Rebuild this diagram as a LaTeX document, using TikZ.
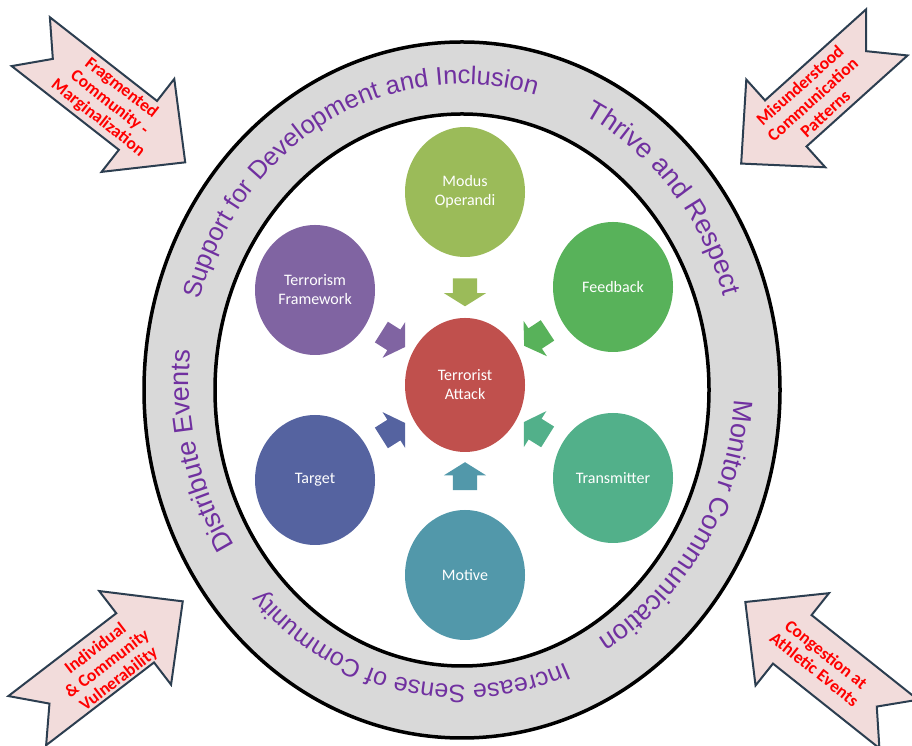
\documentclass[tikz,border=0pt]{standalone}
\usepackage{fontspec}
\setmainfont{Liberation Sans}
\newfontfamily\carlito{Carlito}
\usetikzlibrary{calc, shapes.geometric, shapes.arrows, decorations.text}

\definecolor{modus}{RGB}{155,187,89}
\definecolor{feedb}{RGB}{88,178,90}
\definecolor{transm}{RGB}{82,176,138}
\definecolor{motiv}{RGB}{82,152,170}
\definecolor{targ}{RGB}{85,99,160}
\definecolor{frame}{RGB}{128,100,162}
\definecolor{attack}{RGB}{192,80,77}
\definecolor{ringgray}{RGB}{217,217,217}
\definecolor{ringpurple}{RGB}{112,48,160}
\definecolor{pinkfill}{RGB}{242,220,219}
\definecolor{slate}{RGB}{44,62,80}
\definecolor{warnred}{RGB}{255,0,0}

\begin{document}
\begin{tikzpicture}[x=1pt, y=1pt,
    bubble/.style={ellipse, minimum width=120pt, minimum height=130pt, inner sep=0pt,
      text=white, align=center, font=\carlito\fontsize{16}{19}\selectfont},
    feed/.style={single arrow, minimum height=28pt, inner xsep=0pt, inner ysep=12pt,
      single arrow head extend=9pt, single arrow tip angle=116},
    bigarrow/.style={fill=pinkfill, draw=slate, line width=2pt},
    warn/.style={text=warnred, align=center, font=\carlito\bfseries\fontsize{17.5}{19}\selectfont},
    ring/.style={draw=black, line width=3.5pt},
    ringword/.style n args={2}{decorate, decoration={text along path, text align=center,
      text color=ringpurple, text={|\fontsize{#1}{30}\selectfont|#2}}}]
  \useasboundingbox (0,0) rectangle (912,746);

  % ring
  \coordinate (rc) at (462,356);
  \coordinate (tc) at (462,365);
  \fill[ringgray, even odd rule] (rc) ellipse[x radius=318, y radius=348]
    (rc) ellipse[x radius=247, y radius=276];
  \draw[ring] (rc) ellipse[x radius=318, y radius=348];
  \draw[ring] (rc) ellipse[x radius=247, y radius=276];

  % words round the ring, all clockwise
  \path[ringword={25.5}{Support for Development and Inclusion}]
    ([shift={(170:273 and 297)}]tc) arc[start angle=170, end angle=68, x radius=273, y radius=297];
  \path[ringword={27}{Thrive and Respect}]
    ([shift={(66:273 and 297)}]tc) arc[start angle=66, end angle=14, x radius=273, y radius=297];
  \path[ringword={27}{Monitor Communication}]
    ([shift={(2:273 and 297)}]tc) arc[start angle=2, end angle=-66, x radius=273, y radius=297];
  \path[ringword={25}{Increase Sense of Community}]
    ([shift={(-55:275 and 304)}]tc) arc[start angle=-55, end angle=-149, x radius=275, y radius=304];
  \path[ringword={27}{Distribute Events}]
    ([shift={(222:273 and 297)}]tc) arc[start angle=222, end angle=166, x radius=273, y radius=297];

  % factors
  \node[bubble, fill=attack, minimum height=134pt] (ta) at (465,361) {Terrorist\\Attack};
  \node[bubble, fill=modus] (mo) at (465,554) {Modus\\Operandi};
  \node[bubble, fill=feedb] (fb) at (613,459) {Feedback};
  \node[bubble, fill=transm] (tr) at (613,268) {Transmitter};
  \node[bubble, fill=motiv] (mv) at (465,171) {Motive};
  \node[bubble, fill=targ] (tg) at (315,266) {Target};
  \node[bubble, fill=frame] (tf) at (315,456) {Terrorism\\Framework};

  \node[feed, fill=modus, rotate=-90] (a1) at ($(mo)!0.5!(ta)$) {};
  \node[feed, fill=feedb, rotate=213.5] (a2) at ($(fb)!0.5!(ta)$) {};
  \node[feed, fill=transm, rotate=148] (a3) at ($(tr)!0.5!(ta)$) {};
  \node[feed, fill=motiv, rotate=90] (a4) at ($(mv)!0.5!(ta)$) {};
  \node[feed, fill=targ, rotate=32.3] (a5) at ($(tg)!0.5!(ta)$) {};
  \node[feed, fill=frame, rotate=-32.3] (a6) at ($(tf)!0.5!(ta)$) {};

  % pressures from outside
  \begin{scope}[shift={(108,644)}, rotate=-38]
    \draw[bigarrow] (-98,31) -- (38,31) -- (38,59) -- (98,0) -- (38,-59) -- (38,-31)
      -- (-98,-31) -- (-70,0) -- cycle;
    \node[warn, rotate=-38] (frag) at (2,0) {Fragmented\\Community -\\Marginalization};
  \end{scope}
  \begin{scope}[shift={(814,648)}, rotate=222]
    \draw[bigarrow] (-98,31) -- (38,31) -- (38,59) -- (98,0) -- (38,-59) -- (38,-31)
      -- (-98,-31) -- (-70,0) -- cycle;
    \node[warn, rotate=42] (misu) at (2,0) {Misunderstood\\Communication\\Patterns};
  \end{scope}
  \begin{scope}[shift={(105,85)}, rotate=37.5]
    \draw[bigarrow] (-98,31) -- (38,31) -- (38,59) -- (98,0) -- (38,-59) -- (38,-31)
      -- (-98,-31) -- (-70,0) -- cycle;
    \node[warn, rotate=37.5] (indv) at (0,-4) {Individual\\\& Community\\Vulnerability};
  \end{scope}
  \begin{scope}[shift={(822,83)}, rotate=141.5]
    \draw[bigarrow] (-98,31) -- (38,31) -- (38,59) -- (98,0) -- (38,-59) -- (38,-31)
      -- (-98,-31) -- (-70,0) -- cycle;
    \node[warn, rotate=-38.5] (cong) at (2,0) {Congestion at\\Athletic Events};
  \end{scope}
\end{tikzpicture}
\end{document}
